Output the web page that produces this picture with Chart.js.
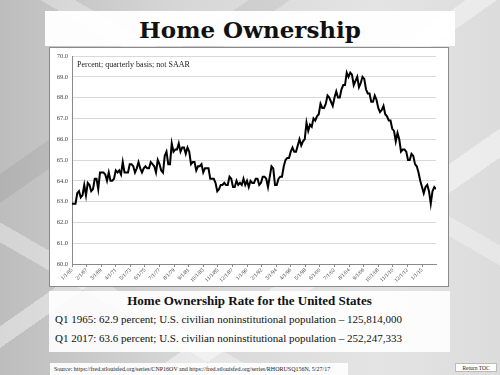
<!DOCTYPE html>
<html>
<head>
<meta charset="utf-8">
<script src="https://cdn.jsdelivr.net/npm/chart.js@4.4.1/dist/chart.umd.min.js"></script>
<style>
  body {
    margin: 0;
    width: 500px;
    height: 375px;
    overflow: hidden;
    position: relative;
    background-color: #d6d6d6;
    background-image:
      linear-gradient(-35deg, transparent 0 30%, rgba(255,255,255,0.45) 30% 34%, transparent 34% 52%, rgba(255,255,255,0.4) 52% 55%, transparent 55% 72%, rgba(0,0,0,0.06) 72% 76%, transparent 76%),
      linear-gradient(30deg, transparent 0 20%, rgba(255,255,255,0.35) 20% 23%, transparent 23% 60%, rgba(255,255,255,0.3) 60% 63%, transparent 63%),
      linear-gradient(90deg, #bdbdbd, #d6d6d6 35%, #e4e4e4 75%, #dcdcdc);
    font-family: "Liberation Serif", "Times New Roman", serif;
  }
  #titleBand {
    position: absolute; left: 45px; top: 11px; width: 410px; height: 35px;
    background: rgba(255,255,255,0.96);
    font-family: "DejaVu Serif", serif; font-weight: bold; font-size: 23px;
    text-align: center; line-height: 37px; color: #111;
  }
  #chartBox {
    position: absolute; left: 49px; top: 47px; width: 398px; height: 238px;
    background: #fff; border: 1px solid #8a8a8a;
  }
  #notes {
    position: absolute; left: 49px; top: 291px; width: 401px; height: 61px;
    background: rgba(255,255,255,0.9);
  }
  #notes .sub {
    position: absolute; left: 0; top: 2px; width: 100%; text-align: center;
    font-weight: bold; font-size: 13px; color: #111;
  }
  #notes .line {
    position: absolute; left: 6px; font-size: 11px; color: #111; white-space: nowrap;
  }
  #source {
    position: absolute; left: 50px; top: 363px; width: 298px; height: 12px;
    background: rgba(255,255,255,0.9);
    font-size: 6px; line-height: 12px; padding-left: 4px; box-sizing: border-box;
    white-space: nowrap; color: #222;
  }
  #toc {
    position: absolute; left: 455px; top: 363px; width: 42px; height: 9px;
    background: #fff; border: 1px solid #bbb; box-sizing: border-box;
    font-size: 5.5px; line-height: 8px; text-align: center; color: #222;
  }
</style>
</head>
<body>
<div id="titleBand">Home Ownership</div>
<div id="chartBox"><canvas id="ownershipChart" width="398" height="238"></canvas></div>
<div id="notes">
  <div class="sub">Home Ownership Rate for the United States</div>
  <div class="line" style="top:22px">Q1 1965: 62.9 percent; U.S. civilian noninstitutional population – 125,814,000</div>
  <div class="line" style="top:41px">Q1 2017: 63.6 percent; U.S. civilian noninstitutional population – 252,247,333</div>
</div>
<div id="source">Source: https://fred.stlouisfed.org/series/CNP16OV and https://fred.stlouisfed.org/series/RHORUSQ156N, 5/27/17</div>
<div id="toc">Return TOC</div>

<script>
// Homeownership rate, quarterly, Q1 1965 - Q1 2017 (percent, not SAAR)
const rate1965to1984 = [
    62.9, 62.9, 62.9, 63.4,  63.5, 63.2, 63.3, 63.8,  63.3, 63.9, 63.8, 63.5,  63.6, 64.1, 64.1, 63.6,
    64.4, 64.4, 64.4, 64.3,  64.0, 64.4, 64.0, 64.0,  64.1, 64.5, 64.4, 64.5,  64.3, 64.9, 64.4, 64.4,
    64.4, 64.8, 64.8, 64.7,  64.4, 64.6, 64.9, 64.6,  64.4, 64.6, 64.7, 64.6,  64.6, 64.9, 64.8, 64.7,
    64.4, 65.0, 64.8, 64.5,  64.4, 65.2, 65.4, 64.8,  64.8, 65.8, 65.4, 65.5,  65.5, 65.8, 65.4, 65.6,
    65.6, 65.3, 65.6, 65.4,  64.8, 64.9, 64.9, 64.5,  64.7, 64.7, 64.8, 64.4,  64.6, 64.6, 64.6, 64.1
];
const rate1985to2004 = [
    64.1, 64.1, 63.9, 63.5,  63.6, 63.8, 63.8, 63.9,  63.8, 63.8, 64.2, 64.1,  63.7, 63.7, 64.0, 63.8,
    63.9, 63.8, 64.1, 63.8,  64.0, 63.7, 64.0, 63.9,  63.9, 64.1, 64.1, 63.8,  63.9, 64.2, 64.2, 64.1,
    63.7, 64.2, 64.7, 64.6,  63.8, 63.8, 64.1, 64.2,  64.2, 64.7, 65.0, 65.1,  65.1, 65.4, 65.6, 65.4,
    65.4, 65.7, 66.0, 65.7,  65.9, 66.0, 66.8, 66.4,  66.7, 66.6, 67.0, 66.9,  67.1, 67.2, 67.7, 67.5,
    67.5, 67.7, 68.1, 68.0,  67.8, 67.6, 68.0, 68.3,  68.0, 68.0, 68.4, 68.6,  68.6, 69.2, 69.0, 69.2
];
const rate2005to2017 = [
    69.1, 68.6, 68.8, 69.0,  68.5, 68.7, 69.0, 68.9,  68.4, 68.2, 68.2, 67.8,  67.8, 68.1, 67.9, 67.5,
    67.3, 67.4, 67.6, 67.2,  67.1, 66.9, 66.9, 66.5,  66.4, 65.9, 66.3, 66.0,  65.4, 65.5, 65.5, 65.4,
    65.0, 65.0, 65.3, 65.2,  64.8, 64.7, 64.4, 64.0,  63.7, 63.4, 63.7, 63.8,  63.5, 62.9, 63.5, 63.7,
    63.6
];
const homeownershipRate = rate1965to1984.concat(rate1985to2004, rate2005to2017);

// x axis: months after Jan 1965, one label every 25 months
const xTickLabels = ["1/1/65", "2/1/67", "3/1/69", "4/1/71", "5/1/73", "6/1/75", "7/1/77", "8/1/79",
    "9/1/81", "10/1/83", "11/1/85", "12/1/87", "1/1/90", "2/1/92", "3/1/94", "4/1/96", "5/1/98",
    "6/1/00", "7/1/02", "8/1/04", "9/1/06", "10/1/08", "11/1/10", "12/1/12", "1/1/15"];
const monthsPerLabel = 25;
const yTicks = [60, 61, 62, 63, 64, 65, 66, 67, 68, 69, 70];

const points = homeownershipRate.map((v, i) => ({ x: i * 3, y: v }));

// note in the top left corner of the plot
const noteText = {
    id: "noteText",
    afterDraw(chart) {
        const ctx = chart.ctx;
        ctx.save();
        ctx.font = '8px "Liberation Serif"';
        ctx.fillStyle = "#222";
        ctx.textBaseline = "middle";
        ctx.fillText("Percent; quarterly basis; not SAAR", chart.chartArea.left + 5, chart.chartArea.top + 9);
        ctx.restore();
    }
};

new Chart(document.getElementById("ownershipChart").getContext("2d"), {
    type: "line",
    data: {
        datasets: [{
            data: points,
            borderColor: "#000",
            borderWidth: 2,
            pointRadius: 0,
            tension: 0,
            fill: false
        }]
    },
    options: {
        responsive: false,
        animation: false,
        layout: { padding: { top: 8, right: 12, left: 0, bottom: 0 } },
        plugins: { legend: { display: false }, tooltip: { enabled: false } },
        scales: {
            x: {
                type: "linear",
                min: 0,
                max: (homeownershipRate.length - 1) * 3,
                afterFit: (scale) => { scale.height = 22; },
                grid: { drawOnChartArea: false, color: "#8a8a8a", tickLength: 3 },
                border: { color: "#8a8a8a" },
                ticks: {
                    stepSize: monthsPerLabel,
                    includeBounds: false,
                    autoSkip: false,
                    minRotation: 45,
                    maxRotation: 45,
                    padding: 0,
                    color: "#333",
                    font: { family: "Liberation Serif", size: 5.5 },
                    callback: (v) => (v % monthsPerLabel === 0 ? xTickLabels[v / monthsPerLabel] : "")
                }
            },
            y: {
                min: yTicks[0],
                max: yTicks[yTicks.length - 1],
                afterFit: (scale) => { scale.width = 22; },
                afterBuildTicks: (scale) => { scale.ticks = yTicks.map((v) => ({ value: v })); },
                grid: { color: "#d9d9d9", tickLength: 0 },
                border: { color: "#8a8a8a" },
                ticks: {
                    padding: 4,
                    color: "#444",
                    font: { family: "Liberation Serif", size: 6.5 },
                    callback: (v) => v.toFixed(1)
                }
            }
        }
    },
    plugins: [noteText]
});
</script>
</body>
</html>
